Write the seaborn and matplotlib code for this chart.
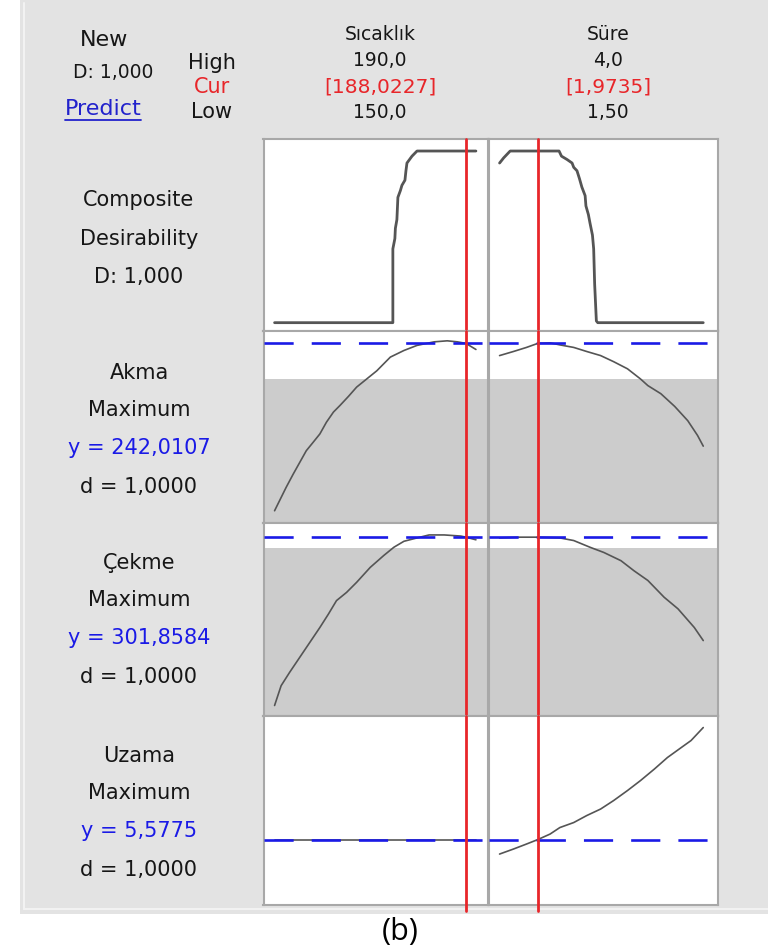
import matplotlib
matplotlib.use("Agg")
import matplotlib.pyplot as plt
from matplotlib.lines import Line2D
from matplotlib.patches import Rectangle
import seaborn as sns
import pandas as pd

# ---- factor settings ----
factors = ["Sıcaklık", "Süre"]
factor_high = [190.0, 4.0]
factor_cur = [188.0227, 1.9735]
factor_low = [150.0, 1.50]
factor_fmt = ["{:.1f}", "{:.1f}"]
low_fmt = ["{:.1f}", "{:.2f}"]

# ---- composite desirability traces ----
comp_sic_x = [150.0, 173.5, 173.5, 173.9, 174.0, 174.3, 174.5, 175.0, 175.3, 175.9, 176.1,
              176.3, 176.8, 177.3, 178.3, 190.0]
comp_sic_d = [0.0, 0.0, 0.43, 0.49, 0.55, 0.60, 0.73, 0.77, 0.80, 0.83, 0.885,
              0.93, 0.95, 0.97, 1.0, 1.0]
comp_sure_x = [1.50, 1.55, 1.63, 2.23, 2.26, 2.33, 2.39, 2.41, 2.45, 2.48, 2.51,
               2.55, 2.56, 2.59, 2.61, 2.64, 2.655, 2.667, 2.688, 2.705, 4.00]
comp_sure_d = [0.93, 0.96, 1.0, 1.0, 0.97, 0.95, 0.93, 0.905, 0.885, 0.84, 0.79,
               0.74, 0.68, 0.63, 0.58, 0.51, 0.43, 0.225, 0.01, 0.0, 0.0]

# ---- Akma ----
akma_sic_x = [150.0, 151.0, 152.3, 153.7, 155.0, 156.3, 157.7, 159.0, 160.3, 161.7, 163.0, 164.7,
              166.3, 168.3, 170.3, 173.0, 175.7, 178.3, 181.7, 184.3, 186.3, 188.0, 190.0]
akma_sic_y = [209.1, 211.1, 213.7, 216.3, 218.6, 220.9, 222.6, 224.2, 226.5, 228.5, 229.8, 231.6,
              233.4, 235.0, 236.6, 239.3, 240.6, 241.6, 242.3, 242.5, 242.3, 242.0, 240.8]
akma_sure_x = [1.50, 1.67, 1.83, 1.97, 2.12, 2.24, 2.41, 2.57, 2.74, 2.90, 3.07, 3.23,
               3.32, 3.48, 3.65, 3.81, 3.93, 4.00]
akma_sure_y = [239.6, 240.4, 241.2, 242.0, 242.1, 241.7, 241.2, 240.4, 239.6, 238.4, 237.0, 235.0,
               233.7, 232.1, 229.6, 226.8, 223.9, 221.8]

# ---- Çekme ----
cekme_sic_x = [150.0, 151.3, 153.0, 155.0, 157.0, 159.0, 160.7, 162.3, 164.3, 166.3,
               169.0, 171.7, 173.7, 175.7, 178.3, 180.7, 183.7, 187.0, 188.0, 190.0]
cekme_sic_y = [256.8, 262.1, 265.7, 269.7, 273.7, 277.7, 281.3, 284.9, 287.1, 289.8,
               293.8, 297.0, 299.2, 300.8, 301.7, 302.5, 302.5, 302.2, 301.9, 301.2]
cekme_sure_x = [1.50, 1.75, 1.97, 2.24, 2.41, 2.61, 2.78, 2.99, 3.15, 3.32, 3.52, 3.69, 3.89, 4.00]
cekme_sure_y = [301.7, 301.9, 301.9, 301.7, 301.0, 299.2, 297.8, 295.6, 292.9, 290.3,
                285.8, 282.7, 277.7, 274.2]

# ---- Uzama ----
uzama_sic_x = [150.0, 190.0]
uzama_sic_y = [5.5775, 5.5775]
uzama_sure_x = [1.50, 1.67, 1.83, 1.97, 2.12, 2.24, 2.41, 2.57, 2.74, 2.90, 3.07, 3.23,
                3.40, 3.56, 3.73, 3.85, 4.00]
uzama_sure_y = [5.29, 5.39, 5.49, 5.58, 5.69, 5.82, 5.92, 6.06, 6.19, 6.36, 6.56, 6.76,
                6.99, 7.22, 7.42, 7.56, 7.82]

responses = ["Akma", "Çekme", "Uzama"]
goals = ["Maximum", "Maximum", "Maximum"]
y_pred = [242.0107, 301.8584, 5.5775]
d_pred = [1.0, 1.0, 1.0]
targets = [235.0, 299.0, 4.0]   # below this the response is shaded grey
composite_D = 1.0

# ---- layout (pixels on a 768x953 canvas) ----
W, H = 768, 953
row_edges = [140, 332, 524, 717, 906]
col_edges = [263.5, 488.5, 717.5]
xlims = [(147.8, 192.5), (1.364, 4.175)]
ylims = [(-0.0485, 1.070), (206.69, 244.43), (253.98, 305.70), (4.271, 8.051)]

INK = "#161616"
RED = "#e8262a"
BLUE = "#1a1ae6"
CURVE = "#555555"
FRAME = "#a8a8a8"

sns.set_style("white")
plt.rcParams["font.family"] = ["DejaVu Sans"]
plt.rcParams["lines.scale_dashes"] = False


def fx(x):
    return x / W


def fy(y):
    return 1 - y / H


fig = plt.figure(figsize=(W / 100, H / 100), dpi=100)
fig.patch.set_facecolor("white")
fig.add_artist(Rectangle((fx(20), fy(915)), 1 - fx(20), 915 / H, transform=fig.transFigure,
                         facecolor="#e3e3e3", edgecolor="none", zorder=-5))
fig.add_artist(Line2D([fx(24), fx(24)], [fy(4), fy(910)], transform=fig.transFigure,
                      color="#f2f2f2", lw=1.5, zorder=-4))
fig.add_artist(Line2D([fx(24), fx(W)], [fy(910), fy(910)], transform=fig.transFigure,
                      color="#f2f2f2", lw=1.5, zorder=-4))

traces = [
    [(comp_sic_x, comp_sic_d), (comp_sure_x, comp_sure_d)],
    [(akma_sic_x, akma_sic_y), (akma_sure_x, akma_sure_y)],
    [(cekme_sic_x, cekme_sic_y), (cekme_sure_x, cekme_sure_y)],
    [(uzama_sic_x, uzama_sic_y), (uzama_sure_x, uzama_sure_y)],
]

for r in range(4):
    top, bot = row_edges[r], row_edges[r + 1]
    for c in range(2):
        left, right = col_edges[c], col_edges[c + 1]
        ax = fig.add_axes([fx(left), fy(bot), (right - left) / W, (bot - top) / H])
        ax.set_facecolor("white")
        xs, ys = traces[r][c]
        df = pd.DataFrame({"x": xs, "y": ys})
        if r > 0:
            ax.axhspan(ylims[r][0], targets[r - 1], color="#cccccc", lw=0, zorder=0)
        sns.lineplot(data=df, x="x", y="y", ax=ax, color=CURVE, sort=False, estimator=None,
                     lw=2.0 if r == 0 else 1.2, zorder=2)
        if r > 0:
            ax.axhline(y_pred[r - 1], color=BLUE, lw=1.9, dashes=(21, 13), zorder=3)
        ext = -6 / (bot - top) if r == 3 else 0
        ax.axvline(factor_cur[c], ymin=ext, ymax=1, color=RED, lw=2.0, zorder=4, clip_on=False)
        ax.set_xlim(*xlims[c])
        ax.set_ylim(*ylims[r])
        ax.set(xticks=[], yticks=[], xlabel="", ylabel="")
        for s in ax.spines.values():
            s.set_color(FRAME)
            s.set_linewidth(1.5)

# ---- header text ----
hdr = dict(ha="center", va="center", fontsize=13.5, color=INK)
fig.text(fx(104), fy(40), "New", **{**hdr, "fontsize": 16})
fig.text(fx(113), fy(73), f"D: {composite_D:.3f}".replace(".", ","), **hdr)
pred = fig.text(fx(103), fy(109), "Predict", **{**hdr, "color": "#2222cc", "fontsize": 16})
fig.text(fx(212), fy(63), "High", **{**hdr, "fontsize": 15})
fig.text(fx(212), fy(87), "Cur", **{**hdr, "color": RED, "fontsize": 15})
fig.text(fx(212), fy(112), "Low", **{**hdr, "fontsize": 15})
for c, name in enumerate(factors):
    cx = [380, 608][c]
    fig.text(fx(cx), fy(35), name, **hdr)
    fig.text(fx(cx), fy(61), factor_fmt[c].format(factor_high[c]).replace(".", ","), **hdr)
    fig.text(fx(cx), fy(87), "[" + f"{factor_cur[c]:.4f}".replace(".", ",") + "]",
             **{**hdr, "color": RED, "fontsize": 14.5})
    fig.text(fx(cx), fy(113), low_fmt[c].format(factor_low[c]).replace(".", ","), **hdr)

fig.canvas.draw()
bb = pred.get_window_extent().transformed(fig.transFigure.inverted())
fig.add_artist(Line2D([bb.x0, bb.x1], [bb.y0 - 0.002, bb.y0 - 0.002], transform=fig.transFigure,
                      color="#2222cc", lw=1.3))

# ---- row labels ----
lab = dict(ha="center", va="center", fontsize=15, color=INK)
fig.text(fx(139), fy(200), "Composite", **lab)
fig.text(fx(139), fy(239), "Desirability", **lab)
fig.text(fx(139), fy(277), f"D: {composite_D:.3f}".replace(".", ","), **lab)
label_rows = [373, 563, 756]
for i, name in enumerate(responses):
    y0 = label_rows[i]
    fig.text(fx(139), fy(y0), name, **lab)
    fig.text(fx(139), fy(y0 + 37), goals[i], **lab)
    fig.text(fx(139), fy(y0 + 75), "y = " + f"{y_pred[i]:.4f}".replace(".", ","),
             **{**lab, "color": BLUE})
    fig.text(fx(139), fy(y0 + 114), "d = " + f"{d_pred[i]:.4f}".replace(".", ","), **lab)

fig.text(fx(400), fy(932), "(b)", ha="center", va="center", fontsize=22, color="black",
         family=["Open Sans", "DejaVu Sans"])

fig.savefig("out.png", dpi=100)
